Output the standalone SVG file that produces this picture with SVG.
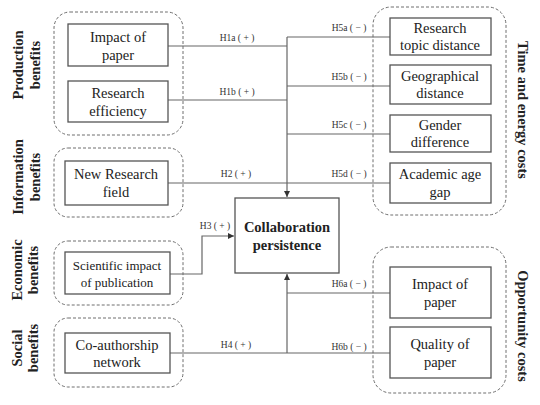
<svg xmlns="http://www.w3.org/2000/svg" width="540" height="405" viewBox="0 0 540 405">
<defs>
<marker id="ar" viewBox="0 0 6 6" refX="6" refY="3" markerWidth="5" markerHeight="5" orient="auto">
<path d="M0,0 L6,3 L0,6 z" fill="#333"/>
</marker>
</defs>
<rect width="540" height="405" fill="#fff"/>
<g fill="none" stroke="#6e6e6e" stroke-width="1" stroke-dasharray="3,2">
<rect id="grp-production" x="54" y="12" width="129" height="123" rx="16"/>
<rect id="grp-information" x="54" y="148" width="129" height="69" rx="14"/>
<rect id="grp-economic" x="54" y="241" width="129" height="64" rx="14"/>
<rect id="grp-social" x="54" y="318" width="129" height="69" rx="14"/>
<rect id="grp-time" x="373" y="7" width="133" height="208" rx="18"/>
<rect id="grp-opportunity" x="373" y="247" width="133" height="146" rx="18"/>
</g>
<g id="group-labels" font-family="Liberation Serif, serif" font-size="14.5" font-weight="bold" fill="#222" text-anchor="middle">
<text font-family="Liberation Serif, serif" transform="translate(23,65) rotate(-90)">Production</text>
<text font-family="Liberation Serif, serif" transform="translate(40,65) rotate(-90)">benefits</text>
<text font-family="Liberation Serif, serif" transform="translate(23,177) rotate(-90)">Information</text>
<text font-family="Liberation Serif, serif" transform="translate(40,177) rotate(-90)">benefits</text>
<text font-family="Liberation Serif, serif" transform="translate(22,270) rotate(-90)">Economic</text>
<text font-family="Liberation Serif, serif" transform="translate(38,270) rotate(-90)">benefits</text>
<text font-family="Liberation Serif, serif" transform="translate(22,348) rotate(-90)">Social</text>
<text font-family="Liberation Serif, serif" transform="translate(38,348) rotate(-90)">benefits</text>
<text font-family="Liberation Serif, serif" transform="translate(518,110) rotate(90)">Time and energy costs</text>
<text font-family="Liberation Serif, serif" transform="translate(518,326) rotate(90)">Opportunity costs</text>
</g>
<g id="connectors" fill="none" stroke="#666" stroke-width="1.2">
<path d="M168,46 H287"/>
<path d="M168,100 H287"/>
<path d="M168,183 H390"/>
<path d="M287,37 H390"/>
<path d="M287,86 H390"/>
<path d="M287,134 H390"/>
<path d="M287,37 V197" marker-end="url(#ar)"/>
<path d="M170,274 H202 V236 H234" marker-end="url(#ar)"/>
<path d="M170,353 H390"/>
<path d="M287,293 H390"/>
<path d="M287,353 V274" marker-end="url(#ar)"/>
</g>
<g id="connector-labels" font-family="Liberation Serif, serif" font-size="9.5" fill="#333" text-anchor="middle">
<text font-family="Liberation Serif, serif" x="237" y="41">H1a ( + )</text>
<text font-family="Liberation Serif, serif" x="237" y="95">H1b ( + )</text>
<text font-family="Liberation Serif, serif" x="236" y="177">H2 ( + )</text>
<text font-family="Liberation Serif, serif" x="215" y="229">H3 ( + )</text>
<text font-family="Liberation Serif, serif" x="236" y="348">H4 ( + )</text>
<text font-family="Liberation Serif, serif" x="349" y="31">H5a ( − )</text>
<text font-family="Liberation Serif, serif" x="349" y="80">H5b ( − )</text>
<text font-family="Liberation Serif, serif" x="349" y="128">H5c ( − )</text>
<text font-family="Liberation Serif, serif" x="349" y="177">H5d ( − )</text>
<text font-family="Liberation Serif, serif" x="349" y="287">H6a ( − )</text>
<text font-family="Liberation Serif, serif" x="349" y="350">H6b ( − )</text>
</g>
<g font-family="Liberation Serif, serif" font-size="14.5" fill="#222" text-anchor="middle">
<g id="n-impact1"><rect x="68" y="24" width="100" height="42" fill="#fff" stroke="#555" stroke-width="1.3"/><text font-family="Liberation Serif, serif" x="118" y="42">Impact of</text><text font-family="Liberation Serif, serif" x="118" y="60">paper</text></g>
<g id="n-efficiency"><rect x="68" y="81" width="100" height="41" fill="#fff" stroke="#555" stroke-width="1.3"/><text font-family="Liberation Serif, serif" x="118" y="98">Research</text><text font-family="Liberation Serif, serif" x="118" y="116">efficiency</text></g>
<g id="n-newfield"><rect x="65" y="161" width="103" height="44" fill="#fff" stroke="#555" stroke-width="1.3"/><text font-family="Liberation Serif, serif" x="116" y="179">New Research</text><text font-family="Liberation Serif, serif" x="116" y="197">field</text></g>
<g id="n-scientific"><rect x="65" y="252" width="105" height="42" fill="#fff" stroke="#555" stroke-width="1.3"/><text font-family="Liberation Serif, serif" font-size="13" x="117" y="270">Scientific impact</text><text font-family="Liberation Serif, serif" font-size="13" x="117" y="287">of publication</text></g>
<g id="n-coauthor"><rect x="65" y="333" width="105" height="40" fill="#fff" stroke="#555" stroke-width="1.3"/><text font-family="Liberation Serif, serif" x="117" y="350">Co-authorship</text><text font-family="Liberation Serif, serif" x="117" y="367">network</text></g>
<g id="n-center"><rect x="235" y="198" width="104" height="75" fill="#fff" stroke="#555" stroke-width="1.3"/><text font-family="Liberation Serif, serif" font-weight="bold" x="287" y="232">Collaboration</text><text font-family="Liberation Serif, serif" font-weight="bold" x="287" y="250">persistence</text></g>
<g id="n-topic"><rect x="390" y="18" width="101" height="37" fill="#fff" stroke="#555" stroke-width="1.3"/><text font-family="Liberation Serif, serif" x="440" y="33">Research</text><text font-family="Liberation Serif, serif" x="440" y="50">topic distance</text></g>
<g id="n-geo"><rect x="390" y="65" width="101" height="39" fill="#fff" stroke="#555" stroke-width="1.3"/><text font-family="Liberation Serif, serif" x="440" y="81">Geographical</text><text font-family="Liberation Serif, serif" x="440" y="98">distance</text></g>
<g id="n-gender"><rect x="390" y="115" width="101" height="37" fill="#fff" stroke="#555" stroke-width="1.3"/><text font-family="Liberation Serif, serif" x="440" y="130">Gender</text><text font-family="Liberation Serif, serif" x="440" y="147">difference</text></g>
<g id="n-age"><rect x="390" y="163" width="101" height="40" fill="#fff" stroke="#555" stroke-width="1.3"/><text font-family="Liberation Serif, serif" x="440" y="179">Academic age</text><text font-family="Liberation Serif, serif" x="440" y="197">gap</text></g>
<g id="n-impact2"><rect x="390" y="267" width="101" height="51" fill="#fff" stroke="#555" stroke-width="1.3"/><text font-family="Liberation Serif, serif" x="440" y="289">Impact of</text><text font-family="Liberation Serif, serif" x="440" y="307">paper</text></g>
<g id="n-quality"><rect x="390" y="327" width="101" height="51" fill="#fff" stroke="#555" stroke-width="1.3"/><text font-family="Liberation Serif, serif" x="440" y="349">Quality of</text><text font-family="Liberation Serif, serif" x="440" y="367">paper</text></g>
</g>
</svg>
